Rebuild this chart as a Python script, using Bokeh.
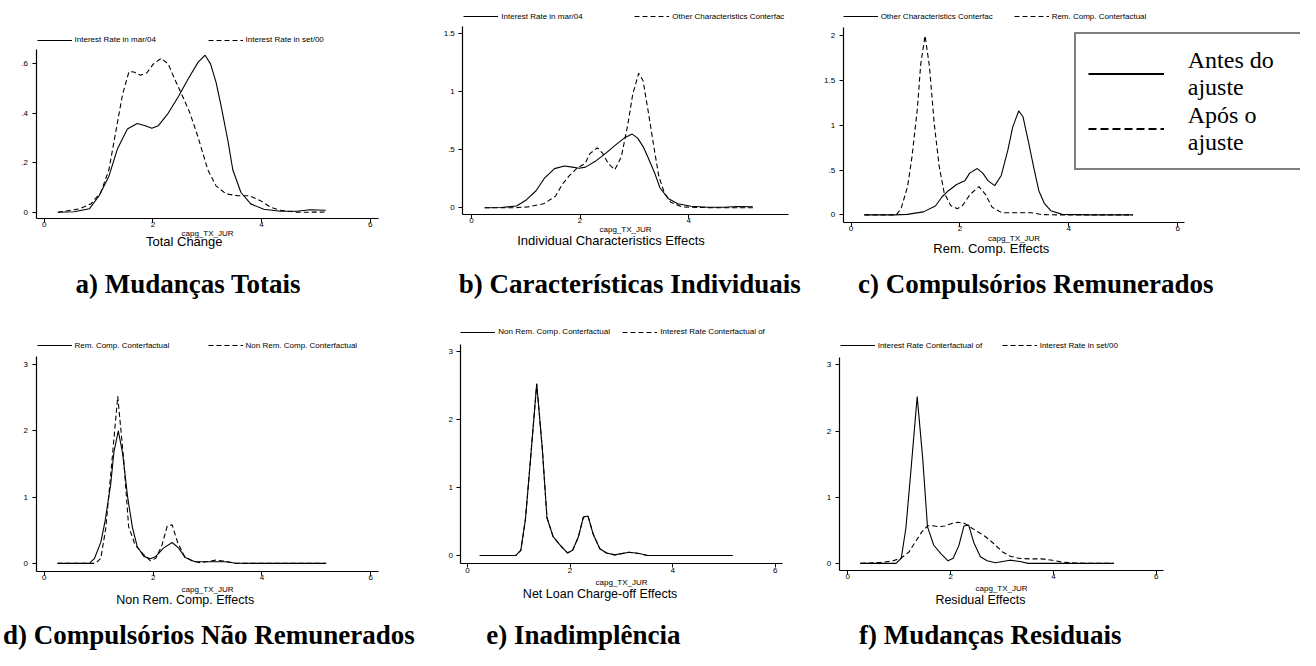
from bokeh.plotting import figure
from bokeh.models import (Range1d, FixedTicker, Legend, LegendItem, Label, LinearAxis)
from bokeh.embed import file_html
from bokeh.resources import INLINE

# ---------------- data (kernel density estimates of capg_TX_JUR) ----------------
x_mar04 = [0.25, 0.55, 0.83, 1.01, 1.19, 1.35, 1.53, 1.71, 1.86, 1.98, 2.10, 2.28, 2.47, 2.65,
           2.83, 2.96, 3.06, 3.16, 3.25, 3.38, 3.47, 3.62, 3.80, 4.04, 4.35, 4.65, 4.89, 5.18]
y_mar04 = [0.0, 0.002, 0.014, 0.067, 0.146, 0.258, 0.337, 0.359, 0.35, 0.34, 0.35, 0.40, 0.468, 0.54,
           0.606, 0.635, 0.60, 0.527, 0.435, 0.29, 0.172, 0.08, 0.034, 0.012, 0.004, 0.004, 0.01, 0.008]

x_set00 = [0.25, 0.65, 0.86, 1.04, 1.19, 1.32, 1.44, 1.56, 1.65, 1.77, 1.89, 2.01, 2.15, 2.28,
           2.41, 2.56, 2.68, 2.83, 3.01, 3.16, 3.35, 3.56, 3.77, 3.98, 4.16, 4.35, 4.65, 5.18]
y_set00 = [0.0, 0.014, 0.034, 0.08, 0.172, 0.33, 0.475, 0.569, 0.567, 0.554, 0.564, 0.60, 0.622, 0.60,
           0.534, 0.462, 0.402, 0.304, 0.172, 0.107, 0.074, 0.067, 0.067, 0.047, 0.021, 0.008, 0.0, 0.001]

x_other = [0.24, 0.79, 1.03, 1.33, 1.55, 1.67, 1.79, 1.94, 2.09, 2.18, 2.32, 2.42, 2.52, 2.64,
           2.76, 2.88, 2.97, 3.08, 3.16, 3.26, 3.36, 3.45, 3.55, 3.67, 3.88, 4.42, 5.18]
y_other = [0.0, 0.0, 0.006, 0.034, 0.10, 0.20, 0.27, 0.34, 0.38, 0.466, 0.517, 0.466, 0.38, 0.327,
           0.44, 0.72, 0.98, 1.16, 1.095, 0.815, 0.52, 0.27, 0.13, 0.047, 0.006, 0.0, 0.0]

x_rem = [0.25, 0.83, 0.92, 1.04, 1.12, 1.22, 1.28, 1.36, 1.44, 1.53, 1.62, 1.71, 1.83, 1.95,
         2.04, 2.19, 2.35, 2.47, 2.59, 2.77, 3.01, 3.32, 3.50, 3.86, 5.18]
y_rem = [0.0, 0.0, 0.07, 0.32, 0.65, 1.19, 1.68, 2.0, 1.66, 1.01, 0.54, 0.25, 0.105, 0.07,
         0.098, 0.23, 0.315, 0.23, 0.087, 0.025, 0.025, 0.025, 0.004, 0.0, 0.0]

x_nonrem = [0.24, 0.94, 1.04, 1.13, 1.23, 1.35, 1.46, 1.55, 1.67, 1.81, 1.95, 2.05, 2.16, 2.26,
            2.35, 2.45, 2.58, 2.71, 2.87, 3.15, 3.35, 3.51, 5.17]
y_nonrem = [0.0, 0.0, 0.077, 0.53, 1.42, 2.52, 1.56, 0.555, 0.277, 0.148, 0.038, 0.077, 0.268, 0.565,
            0.58, 0.316, 0.10, 0.038, 0.01, 0.048, 0.029, 0.0, 0.0]

x_ircf = [0.24, 0.94, 1.04, 1.13, 1.23, 1.35, 1.46, 1.55, 1.67, 1.81, 1.95, 2.05, 2.16, 2.26,
          2.35, 2.45, 2.58, 2.71, 2.87, 3.15, 3.35, 3.51, 5.17]
y_ircf = [0.0, 0.0, 0.077, 0.53, 1.42, 2.52, 1.56, 0.555, 0.277, 0.148, 0.038, 0.077, 0.268, 0.565,
          0.58, 0.316, 0.10, 0.038, 0.01, 0.048, 0.029, 0.0, 0.0]

series_names = {
    "mar04": "Interest Rate in mar/04",
    "set00": "Interest Rate in set/00",
    "other": "Other Characteristics Conterfac",
    "rem": "Rem. Comp. Conterfactual",
    "nonrem": "Non Rem. Comp. Conterfactual",
    "ircf": "Interest Rate Conterfactual of",
}
series_xy = {
    "mar04": (x_mar04, y_mar04),
    "set00": (x_set00, y_set00),
    "other": (x_other, y_other),
    "rem": (x_rem, y_rem),
    "nonrem": (x_nonrem, y_nonrem),
    "ircf": (x_ircf, y_ircf),
}

x_ticks = [0, 2, 4, 6]
y_ticks_a = [0, 0.2, 0.4, 0.6]
y_labels_a = ["0", ".2", ".4", ".6"]
y_ticks_b = [0, 0.5, 1, 1.5]
y_labels_b = ["0", ".5", "1", "1.5"]
y_ticks_c = [0, 0.5, 1, 1.5, 2]
y_labels_c = ["0", ".5", "1", "1.5", "2"]
y_ticks_def = [0, 1, 2, 3]
y_labels_def = ["0", "1", "2", "3"]

x_title = "capg_TX_JUR"
notes = ["Total Change", "Individual Characteristics Effects", "Rem. Comp. Effects",
         "Non Rem. Comp. Effects", "Net Loan Charge-off Effects", "Residual Effects"]
captions = ["a) Mudanças Totais", "b) Características Individuais", "c) Compulsórios Remunerados",
            "d) Compulsórios Não Remunerados", "e) Inadimplência", "f) Mudanças Residuais"]
box_labels = ["Antes do\najuste", "Após o\najuste"]

SANS = "Liberation Sans"
SERIF = "Liberation Serif"

# ---------------- page geometry (pixels) ----------------
W, H = 1300, 650          # canvas size
RW, RH = 1316, 666        # design space
SX, SY = W / RW, H / RH


def cx(px):
    return px * SX


def cy(py):
    return H - py * SY


p = figure(width=W, height=H, x_range=Range1d(0, W), y_range=Range1d(0, H),
           output_backend="svg", toolbar_location=None,
           x_axis_location=None, y_axis_location=None,
           min_border=0, min_border_left=0, min_border_right=0,
           min_border_top=0, min_border_bottom=0)
p.outline_line_color = None
p.xgrid.visible = False
p.ygrid.visible = False
p.background_fill_color = "white"
p.border_fill_color = "white"

# panel geometry: x0/y0 = position of value 0, ux/uy = px per unit,
# al/ar = axis left/right, ay = x-axis line, at = top of y-axis
panels = [
    dict(k="a", x0=44.3, ux=55.0, y0=217.0, uy=253.5, al=36, ar=383, ay=223, at=50,
         yt=y_ticks_a, yl=y_labels_a, s="mar04", d="set00", note=(186, 247, "13px"),
         cap=(190, 290), leg=(37, 40.7), lw=133, xs=-2),
    dict(k="b", x0=476.7, ux=55.0, y0=212.3, uy=118.8, al=468, ar=798, ay=219, at=27,
         yt=y_ticks_b, yl=y_labels_b, s="mar04", d="other", note=(618, 246, "13px"),
         cap=(637, 290), leg=(469, 17), lw=133, xs=-2),
    dict(k="c", x0=861.0, ux=55.1, y0=219.7, uy=91.85, al=853, ar=1199, ay=227, at=28,
         yt=y_ticks_c, yl=y_labels_c, s="other", d="rem", note=(1003, 254, "13px"),
         cap=(1048, 290), leg=(853, 17), lw=133, xs=-1),
    dict(k="d", x0=44.3, ux=55.1, y0=576.7, uy=67.9, al=36, ar=383, ay=585, at=365,
         yt=y_ticks_def, yl=y_labels_def, s="rem", d="nonrem", note=(187, 614, "12.5px"),
         cap=(211, 650), leg=(37, 354), lw=133, xs=1),
    dict(k="e", x0=472.7, ux=51.93, y0=568.7, uy=69.8, al=466, ar=792, ay=577, at=352,
         yt=y_ticks_def, yl=y_labels_def, s="nonrem", d="ircf", note=(607, 608, "12.5px"),
         cap=(590, 650), leg=(466, 340), lw=124, xs=2),
    dict(k="f", x0=857.7, ux=52.05, y0=576.7, uy=67.8, al=849, ar=1177, ay=584, at=366,
         yt=y_ticks_def, yl=y_labels_def, s="ircf", d="set00", note=(992, 614, "12.5px"),
         cap=(1002, 650), leg=(850, 354), lw=124, xs=1),
]

for i, P in enumerate(panels):
    k = P["k"]
    xn, yn = "x" + k, "y" + k
    p.extra_x_ranges[xn] = Range1d((0 - P["x0"]) / P["ux"], (RW - P["x0"]) / P["ux"])
    p.extra_y_ranges[yn] = Range1d((P["y0"] - RH) / P["uy"], (P["y0"] - 0) / P["uy"])

    x_lo = (P["al"] - P["x0"]) / P["ux"]
    x_hi = (P["ar"] - P["x0"]) / P["ux"]
    y_lo = (P["y0"] - P["ay"]) / P["uy"]
    y_hi = (P["y0"] - P["at"]) / P["uy"]

    xax = LinearAxis(x_range_name=xn, y_range_name=yn, fixed_location=y_lo, bounds=(x_lo, x_hi),
                     ticker=FixedTicker(ticks=[t for t in x_ticks if t <= x_hi]),
                     axis_label=x_title)
    yax = LinearAxis(x_range_name=xn, y_range_name=yn, fixed_location=x_lo, bounds=(y_lo, y_hi),
                     ticker=FixedTicker(ticks=P["yt"]))
    yax.major_label_overrides = {t: l for t, l in zip(P["yt"], P["yl"])}
    for ax in (xax, yax):
        ax.axis_line_color = "black"
        ax.axis_line_width = 1.2
        ax.major_tick_line_color = "black"
        ax.major_tick_out = 4
        ax.major_tick_in = 0
        ax.minor_tick_line_color = None
        ax.major_label_text_font = SANS
        ax.major_label_text_font_size = "8px"
        ax.major_label_text_color = "black"
    xax.major_label_standoff = 0
    yax.major_label_standoff = 4
    yax.major_label_orientation = "horizontal"
    xax.axis_label_text_font = SANS
    xax.axis_label_text_font_size = "8px"
    xax.axis_label_text_font_style = "normal"
    xax.axis_label_text_color = "black"
    xax.axis_label_standoff = P["xs"]
    p.add_layout(xax, "below")
    p.add_layout(yax, "left")

    sx, sy = series_xy[P["s"]]
    dx, dy = series_xy[P["d"]]
    r1 = p.line(sx, sy, x_range_name=xn, y_range_name=yn, line_color="black", line_width=1.1)
    r2 = p.line(dx, dy, x_range_name=xn, y_range_name=yn, line_color="black", line_width=1.1,
                line_dash="5 3")

    lx, ly = P["leg"]
    leg = Legend(items=[LegendItem(label=series_names[P["s"]], renderers=[r1]),
                        LegendItem(label=series_names[P["d"]], renderers=[r2])],
                 location=(cx(lx), cy(ly + 5)), orientation="horizontal",
                 padding=0, spacing=0, margin=0,
                 glyph_width=35, glyph_height=10, label_height=10, label_width=P["lw"],
                 label_standoff=3, label_text_font=SANS, label_text_font_size="8px",
                 label_text_color="black",
                 border_line_color=None, background_fill_alpha=0)
    p.add_layout(leg)

    nx, ny, nsize = P["note"]
    p.add_layout(Label(x=cx(nx), y=cy(ny), text=notes[i], text_align="center",
                       text_baseline="middle", text_font=SANS, text_font_size=nsize,
                       text_color="black"))
    kx, ky = P["cap"]
    p.add_layout(Label(x=cx(kx), y=cy(ky), text=captions[i], text_align="center",
                       text_baseline="middle", text_font=SERIF, text_font_size="27px",
                       text_font_style="bold", text_color="black"))

    if k == "c":
        # key renderers for the boxed legend (same series as panel c, drawn only in the key)
        kb1 = p.line(sx, sy, x_range_name=xn, y_range_name=yn, line_color="black",
                     line_width=2, visible=False)
        kb2 = p.line(dx, dy, x_range_name=xn, y_range_name=yn, line_color="black",
                     line_width=2, line_dash="8 4", visible=False)

box = Legend(items=[LegendItem(label=box_labels[0], renderers=[kb1]),
                    LegendItem(label=box_labels[1], renderers=[kb2])],
             location=(cx(1087), H - 170), orientation="vertical", padding=12, spacing=0,
             glyph_width=76, glyph_height=55, label_height=55, label_width=220,
             label_standoff=24, label_text_font=SERIF, label_text_font_size="24px",
             label_text_line_height=1.13, label_text_color="black",
             border_line_color="black", border_line_width=2,
             background_fill_color="white", background_fill_alpha=1)
p.add_layout(box)

open("out.html", "w").write(file_html(p, INLINE))
